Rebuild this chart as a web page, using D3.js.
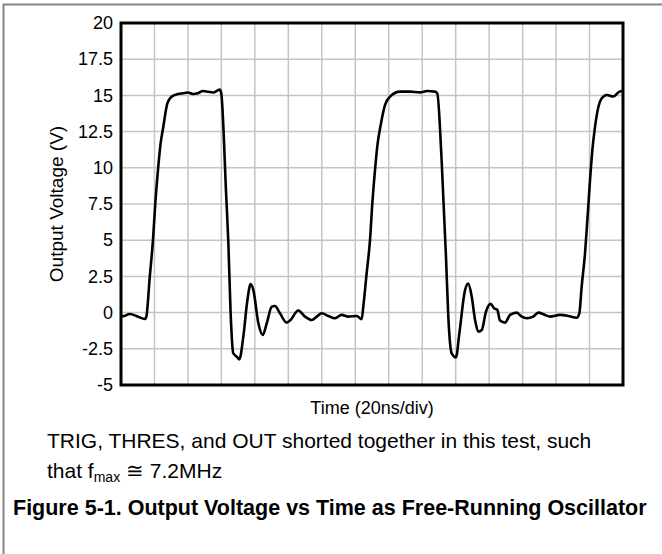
<!DOCTYPE html>
<html>
<head>
<meta charset="utf-8">
<script src="https://cdn.jsdelivr.net/npm/d3@7"></script>
<style>
  body { margin: 0; background: #fff; }
  text { font-family: "Liberation Sans", Arial, sans-serif; fill: #000; }
</style>
</head>
<body>
<div id="wrapper"></div>
<script>
// waveform: time in ns (20 ns/div), voltage in V
const timeNs = [
  0, 1.2, 5.2, 10.2, 14.2, 15.1, 17.2, 19.1, 20.5, 22.1, 23.7, 25.1, 27.7, 30.1, 34.1,
  37, 40, 43, 46, 49, 52, 55, 59, 59.9, 62.9, 64.1, 65.5, 67.1, 69.1, 70.7,
  73.1, 75.5, 77.5, 79.1, 82.1, 84.7, 87.1, 90.1, 92, 95, 99, 101, 106, 110,
  114, 117, 119.9, 123.9, 127.9, 131.9, 135.8, 140.9, 143.8, 144.8, 146.8, 148.8,
  150.2, 151.8, 153.4, 155.2, 157.8, 160.8, 166.7, 172.7, 178.7, 183, 187.6, 189,
  191.6, 194.2, 195.6, 197.6, 200.2, 202.2, 205.6, 207.5, 209.6, 211.6, 213.5,
  215.6, 218.1, 220.9, 222.9, 224.9, 226.5, 229.5, 232.5, 236.5, 239.5, 242.5,
  246.4, 249.4, 253.4, 256.4, 262.4, 267.3, 272.3, 273.9, 275.3, 277.3, 278.7,
  280.3, 281.7, 283.3, 285.3, 287.3, 290.3, 294.2, 297.8, 300
]
const voltage = [
  -0.2, -0.25, -0.1, -0.28, -0.44, -0.3, 2.48, 5.0, 7.55, 9.85, 11.7, 12.7, 14.45, 14.9, 15.1,
  15.15, 15.2, 15.1, 15.15, 15.3, 15.25, 15.2, 15.4, 15.15, 8.0, 5.0, 0, -2.81, -3.04, -3.23,
  -1.66, 0.83, 1.97, 1.55, -0.74, -1.55, -0.74, 0.41, 0.46, -0.05, -0.69, -0.55, 0.14, -0.28,
  -0.51, -0.28, -0.05, -0.23, -0.39, -0.16, -0.28, -0.23, -0.46, 0.41, 2.71, 5.0,
  7.55, 9.85, 11.7, 12.96, 14.34, 14.92, 15.26, 15.26, 15.21, 15.3, 15.26, 15.15,
  10.54, 3.9, -0.28, -2.81, -3.09, -1.43, 1.55, 2.0, 1.1, -0.51, -1.32,
  -1.2, 0.06, 0.6, 0.3, 0.18, -0.55, -0.69, -0.16, 0, -0.28, -0.39,
  -0.28, 0, -0.16, -0.28, -0.16, -0.23, -0.36, -0.05, 1.8, 4.1, 6.4,
  9.16, 11.23, 12.84, 14.22, 14.8, 15.03, 14.92, 15.26, 15.3
]
const yTicks = [-5, -2.5, 0, 2.5, 5, 7.5, 10, 12.5, 15, 17.5, 20]
const xDivisions = d3.range(0, 301, 20)

const yLabel = "Output Voltage (V)"
const xLabel = "Time (20ns/div)"
const captionLine1 = "TRIG, THRES, and OUT shorted together in this test, such"
const figureTitle = "Figure 5-1. Output Voltage vs Time as Free-Running Oscillator"

const dimensions = {
  width: 662,
  height: 554,
  margin: { top: 23, right: 39, bottom: 169, left: 121 },
}
dimensions.boundedWidth = dimensions.width - dimensions.margin.left - dimensions.margin.right
dimensions.boundedHeight = dimensions.height - dimensions.margin.top - dimensions.margin.bottom

const svg = d3.select("#wrapper")
  .append("svg")
    .attr("width", dimensions.width)
    .attr("height", dimensions.height)

// page frame (top + left edges only)
svg.append("path")
    .attr("d", `M3.5,${dimensions.height} V4.5 H${dimensions.width}`)
    .attr("fill", "none")
    .attr("stroke", "#858585")
    .attr("stroke-width", 2)

const bounds = svg.append("g")
    .attr("transform", `translate(${dimensions.margin.left},${dimensions.margin.top})`)

const xScale = d3.scaleLinear()
  .domain([0, 300])
  .range([0, dimensions.boundedWidth])

const yScale = d3.scaleLinear()
  .domain([-5, 20])
  .range([dimensions.boundedHeight, 0])

// grid
bounds.append("g")
  .selectAll("line")
  .data(xDivisions.slice(1, -1))
  .join("line")
    .attr("x1", d => xScale(d))
    .attr("x2", d => xScale(d))
    .attr("y1", 0)
    .attr("y2", dimensions.boundedHeight)
    .attr("stroke", "#c4c4c4")
    .attr("stroke-width", 1.5)

bounds.append("g")
  .selectAll("line")
  .data(yTicks.slice(1, -1))
  .join("line")
    .attr("x1", 0)
    .attr("x2", dimensions.boundedWidth)
    .attr("y1", d => yScale(d))
    .attr("y2", d => yScale(d))
    .attr("stroke", "#c4c4c4")
    .attr("stroke-width", 1.5)

// y tick labels
const yAxis = bounds.append("g")
  .call(d3.axisLeft(yScale).tickValues(yTicks).tickSize(0).tickPadding(8).tickFormat(d => String(d)))
yAxis.select(".domain").remove()
yAxis.attr("font-size", null).attr("font-family", null)
yAxis.selectAll("text")
    .style("font-size", "18px")
    .attr("fill", "#000")

// trace
const line = d3.line()
  .x((d, i) => xScale(timeNs[i]))
  .y(d => yScale(d))
  .curve(d3.curveMonotoneX)

bounds.append("path")
    .attr("d", line(voltage))
    .attr("fill", "none")
    .attr("stroke", "#000")
    .attr("stroke-width", 2.6)
    .attr("stroke-linejoin", "round")

// plot frame
bounds.append("rect")
    .attr("width", dimensions.boundedWidth)
    .attr("height", dimensions.boundedHeight)
    .attr("fill", "none")
    .attr("stroke", "#000")
    .attr("stroke-width", 3)

// axis labels
bounds.append("text")
    .attr("transform", `translate(-58,${dimensions.boundedHeight / 2}) rotate(-90)`)
    .attr("text-anchor", "middle")
    .style("font-size", "19px")
    .text(yLabel)

bounds.append("text")
    .attr("x", dimensions.boundedWidth / 2)
    .attr("y", dimensions.boundedHeight + 29)
    .attr("text-anchor", "middle")
    .style("font-size", "18px")
    .text(xLabel)

// caption
svg.append("text")
    .attr("x", 47)
    .attr("y", 448)
    .style("font-size", "21px")
    .text(captionLine1)

const line2 = svg.append("text")
    .attr("x", 47)
    .attr("y", 478)
    .style("font-size", "21px")
line2.append("tspan").text("that f")
line2.append("tspan").attr("dy", 4).style("font-size", "14px").text("max")
line2.append("tspan").attr("dy", -4).text(" \u2245 7.2MHz")

svg.append("text")
    .attr("x", 13)
    .attr("y", 515)
    .style("font-size", "21.5px")
    .style("font-weight", "bold")
    .text(figureTitle)
</script>
</body>
</html>
